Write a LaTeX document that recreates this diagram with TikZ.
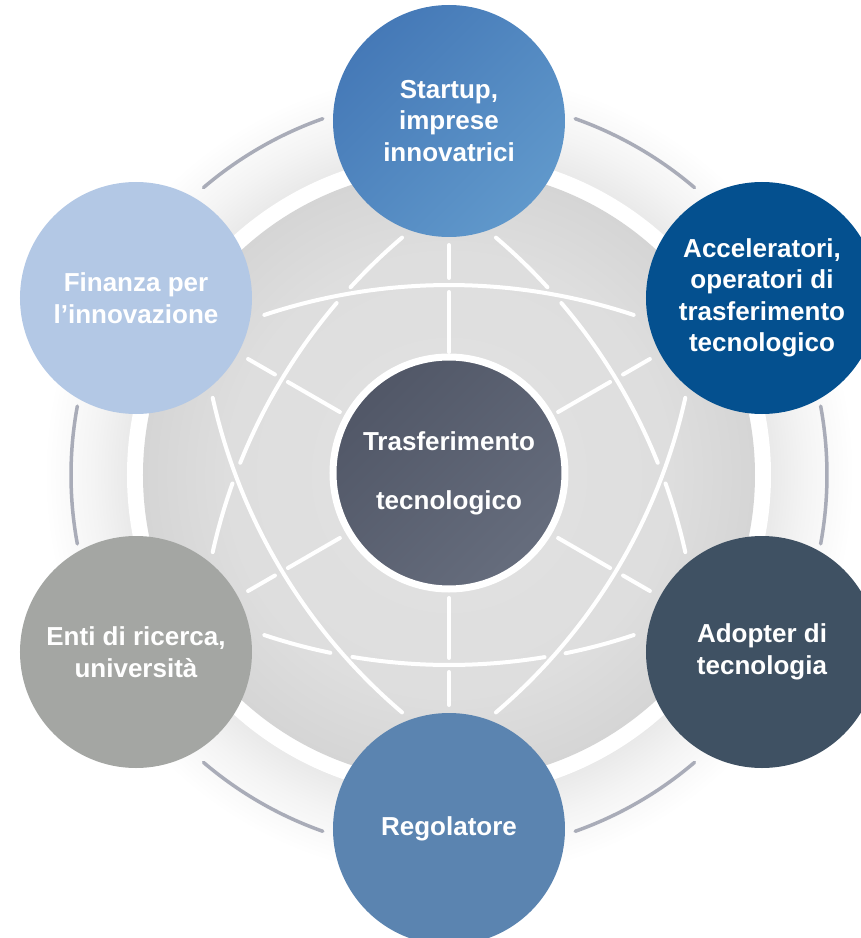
\documentclass[tikz,border=0pt]{standalone}
\usepackage{fontspec}
\setmainfont{Liberation Sans}
\definecolor{haloA}{HTML}{E9E9E9}
\definecolor{haloB}{HTML}{F4F4F4}
\definecolor{discA}{HTML}{E2E2E2}
\definecolor{discB}{HTML}{DEDEDE}
\definecolor{discC}{HTML}{D5D5D5}
\definecolor{arcgray}{HTML}{A9ACB8}
\definecolor{cTopA}{HTML}{4579B7}
\definecolor{cTopB}{HTML}{6098CB}
\definecolor{cUR}{HTML}{04508F}
\definecolor{cLR}{HTML}{3F5163}
\definecolor{cBot}{HTML}{5B84B0}
\definecolor{cLL}{HTML}{A4A6A3}
\definecolor{cUL}{HTML}{B3C8E5}
\definecolor{cCenA}{HTML}{515767}
\definecolor{cCenB}{HTML}{666D7D}
\pgfdeclareradialshading{halo}{\pgfpointorigin}{color(0bp)=(haloA); color(19.8bp)=(haloA); color(22bp)=(haloB); color(25bp)=(white); color(50bp)=(white)}
\pgfdeclareradialshading{disc}{\pgfpointorigin}{color(0bp)=(discA); color(18bp)=(discB); color(25bp)=(discC); color(50bp)=(discC)}
\tikzset{
  bubble/.style={circle, minimum size=232pt, inner sep=0pt, text=white, align=center,
    font=\bfseries\fontsize{26}{31.5}\selectfont},
  ring/.style={arcgray, line width=3.5pt, line cap=round},
  wl/.style={white, line width=4pt, line cap=round},
}
\begin{document}
\begin{tikzpicture}[x=1pt,y=1pt]
\useasboundingbox (-449,-463) rectangle (412,475);
\clip (-449,-463) rectangle (412,475);
% background discs
\shade[shading=halo] (0,0) circle[radius=405];
\fill[white] (0,0) circle[radius=322];
\shade[shading=disc] (0,0) circle[radius=306];
% outer grey arcs
\foreach \a in {0,60,...,300}
  \draw[ring] ({\a-10.5}:378) arc[start angle={\a-10.5}, end angle={\a+10.5}, radius=378];
% vertical spokes
\draw[wl] (0,123) -- (0,183);
\draw[wl] (0,197) -- (0,230);
\draw[wl] (0,-123) -- (0,-183);
\draw[wl] (0,-197) -- (0,-230);
% diagonal spokes
\foreach \a in {30,150,210,330} {
  \draw[wl] (\a:126) -- (\a:186);
  \draw[wl] (\a:201) -- (\a:232);
}
% latitude arcs
\draw[wl] ([shift={(0,-395)}]108.4:585) arc[start angle=108.4, end angle=71.6, radius=585];
\foreach \s/\e in {251.6/258.3, 260.5/279.4, 281.5/288.4}
  \draw[wl] ([shift={(0,395)}]\s:585) arc[start angle=\s, end angle=\e, radius=585];
% meridian arcs
\foreach \s/\e in {130.4/137.5, 139.6/158.2, 160.4/167.5}
  \draw[wl] ([shift={(327,-202)}]\s:577) arc[start angle=\s, end angle=\e, radius=577];
\draw[wl] ([shift={(327,202)}]192.5:577) arc[start angle=192.5, end angle=229.6, radius=577];
\foreach \s/\e in {42.5/49.6, 21.8/40.4, 12.5/19.6}
  \draw[wl] ([shift={(-327,-202)}]\s:577) arc[start angle=\s, end angle=\e, radius=577];
\draw[wl] ([shift={(-327,202)}]310.4:577) arc[start angle=310.4, end angle=347.5, radius=577];
% centre
\node[bubble, draw=white, line width=7pt, top color=cCenA, bottom color=cCenB, shading angle=45,
  font=\bfseries\fontsize{26}{59}\selectfont] (center) at (0,2) {\raisebox{-3pt}{Trasferimento}\\\raisebox{-3pt}{tecnologico}};
% outer circles
\node[bubble, top color=cTopA, bottom color=cTopB, shading angle=45] (startup) at (0,354) {Startup,\\imprese\\innovatrici};
\node[bubble, fill=cUR] (acc) at (313,177) {Acceleratori,\\operatori di\\trasferimento\\tecnologico};
\node[bubble, fill=cLR] (adopter) at (313,-177) {Adopter di\\tecnologia};
\node[bubble, fill=cBot] (reg) at (0,-354) {Regolatore};
\node[bubble, fill=cLL] (enti) at (-313,-177) {Enti di ricerca,\\università};
\node[bubble, fill=cUL] (fin) at (-313,177) {Finanza per\\l’innovazione};
\end{tikzpicture}
\end{document}
